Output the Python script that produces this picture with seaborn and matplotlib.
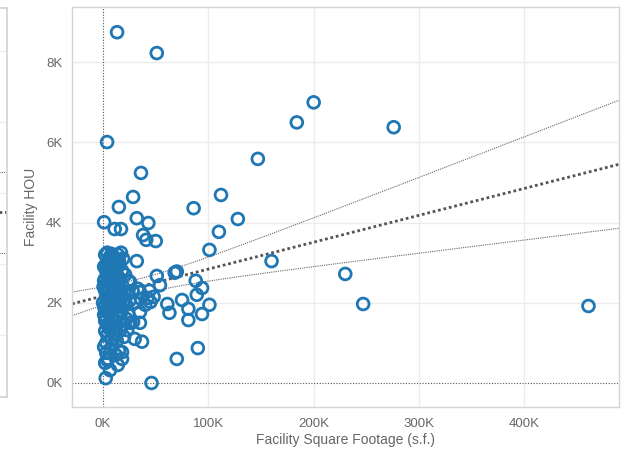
import numpy as np
import pandas as pd
import matplotlib
matplotlib.use("Agg")
import matplotlib.pyplot as plt
from matplotlib.ticker import FuncFormatter
import seaborn as sns

# facility square footage (thousands of s.f.) and facility HOU (thousands)
sqft_k = [
    # spread-out facilities
    13.3, 51, 3.8, 200, 184, 276, 147, 36, 28.5, 112, 86, 128, 1, 32, 43,
    15, 11, 17, 110, 38, 41, 50, 101, 160, 32, 68, 70, 230, 88, 461, 247,
    101, 94, 89, 75, 61, 63, 81, 94, 81, 90, 70, 46, 37, 30, 51, 54, 35,
    42, 45, 48, 25.6, 35, 28.5, 23, 35, 44, 40,
    # small facilities cluster
    2, 4, 6, 8, 10, 14, 17, 5, 9, 12, 19, 3, 7, 15,
    1, 3, 5, 7, 9, 11, 13, 15, 18, 21, 2, 6, 10, 14, 24, 4, 8, 16, 12,
    0.5, 2, 4, 6, 8, 10, 12, 16, 20, 23, 1, 5, 28, 33, 3, 7, 14, 18,
    0, 1, 3, 5, 7, 9, 11, 13, 15, 18, 22, 25, 2, 30, 36, 4, 6, 10, 17, 20,
    1, 3, 5, 7, 9, 12, 15, 19, 22, 26, 4, 17, 24, 11, 2,
    2, 4, 6, 8, 10, 13, 16, 20, 3, 7, 12,
    1, 3, 5, 7, 9, 12, 15, 18, 2, 18, 4,
    2.5, 6.6, 14,
]
hou_k = [
    8.75, 8.23, 6.01, 7.0, 6.5, 6.38, 5.59, 5.24, 4.64, 4.69, 4.36, 4.09, 4.01, 4.11, 3.99,
    4.39, 3.84, 3.84, 3.77, 3.69, 3.57, 3.54, 3.32, 3.04, 3.04, 2.75, 2.78, 2.72, 2.55, 1.92, 1.97,
    1.95, 2.37, 2.2, 2.07, 1.97, 1.75, 1.85, 1.72, 1.57, 0.87, 0.6, 0.0, 1.03, 1.1, 2.67, 2.44, 2.27,
    2.12, 2.02, 2.15, 2.52, 1.5, 1.52, 1.32, 1.77, 2.3, 1.95,
    3.2, 3.25, 3.1, 3.22, 3.15, 3.2, 3.25, 3.0, 3.05, 2.98, 3.1, 2.95, 3.15, 3.05,
    2.9, 2.8, 2.85, 2.7, 2.9, 2.75, 2.85, 2.95, 2.8, 2.7, 2.6, 2.65, 2.6, 2.65, 2.55, 2.7, 2.8, 2.6, 2.7,
    2.4, 2.3, 2.5, 2.2, 2.4, 2.3, 2.45, 2.35, 2.25, 2.2, 2.55, 2.35, 2.3, 2.35, 2.25, 2.5, 2.25, 2.45,
    2.0, 1.9, 2.1, 1.95, 2.05, 1.85, 2.1, 1.9, 2.0, 2.15, 1.95, 2.05, 1.8, 2.0, 2.1, 2.0, 1.85, 2.0, 1.9, 2.05,
    1.7, 1.6, 1.75, 1.5, 1.65, 1.55, 1.7, 1.45, 1.6, 1.5, 1.45, 1.75, 1.7, 1.4, 1.55,
    1.3, 1.2, 1.35, 1.1, 1.25, 1.05, 1.3, 1.15, 1.0, 1.4, 1.2,
    0.9, 0.75, 0.6, 0.85, 0.95, 0.7, 0.8, 0.6, 0.5, 0.77, 0.57,
    0.12, 0.32, 0.45,
]

x_ticks = [0, 100000, 200000, 300000, 400000]
y_ticks = [0, 2000, 4000, 6000, 8000]

# neighbouring panel (cut off at the left edge)
left_grid = [1, 2, 3, 4, 5]
left_lines = [3.30, 2.73, 2.15]

df = pd.DataFrame({"sqft": np.array(sqft_k) * 1000, "hou": np.array(hou_k) * 1000})

sns.set_theme(style="whitegrid")
plt.rcParams["font.family"] = ["Liberation Sans", "DejaVu Sans"]

grid_c = "#ececec"
spine_c = "#d4d4d4"
text_c = "#666666"
point_c = "#1f77b4"

fig = plt.figure(figsize=(6.23, 4.49), dpi=100)
ax = fig.add_axes([0.1156, 0.0935, 0.878, 0.891])

xlim = (-29500, 490000)
ax.set_xlim(*xlim)
ax.set_ylim(-600, 9380)

# linear trend with 95% confidence band
x = df["sqft"].to_numpy()
y = df["hou"].to_numpy()
n = len(x)
slope, intercept = np.polyfit(x, y, 1)
resid = y - (slope * x + intercept)
s = np.sqrt(np.sum(resid ** 2) / (n - 2))
xbar = x.mean()
sxx = np.sum((x - xbar) ** 2)
xs = np.linspace(xlim[0], xlim[1], 200)
fit = slope * xs + intercept
se = s * np.sqrt(1 / n + (xs - xbar) ** 2 / sxx)

ax.axvline(0, color="#555555", lw=0.8, ls=(0, (1, 1.5)), zorder=1)
ax.axhline(0, color="#555555", lw=0.8, ls=(0, (1, 1.5)), zorder=1)

sns.scatterplot(data=df, x="sqft", y="hou", ax=ax, s=72, facecolor="none",
                edgecolor=point_c, linewidth=2.0, zorder=3)

ax.plot(xs, fit + 1.96 * se, color="#666666", lw=0.8, ls=(0, (1, 1)), zorder=2)
ax.plot(xs, fit - 1.96 * se, color="#666666", lw=0.8, ls=(0, (1, 1)), zorder=2)
ax.plot(xs, fit, color="#555555", lw=2.0, ls=(0, (1, 1)), zorder=2)

ax.set_xticks(x_ticks)
ax.set_yticks(y_ticks)
ax.xaxis.set_major_formatter(FuncFormatter(lambda v, p: f"{v / 1000:.0f}K"))
ax.yaxis.set_major_formatter(FuncFormatter(lambda v, p: f"{v / 1000:.0f}K"))
ax.grid(True, color=grid_c, lw=1.0)
ax.xaxis.grid(True)
# zero lines are drawn dotted instead of gridlines
for gl, v in zip(ax.get_xgridlines(), x_ticks):
    if v == 0:
        gl.set_visible(False)
for gl, v in zip(ax.get_ygridlines(), y_ticks):
    if v == 0:
        gl.set_visible(False)

ax.tick_params(axis="y", length=5, color=spine_c, width=1, pad=2, labelsize=9.5, labelcolor=text_c)
ax.tick_params(axis="x", length=0, pad=8, labelsize=9.5, labelcolor=text_c)
for sp in ax.spines.values():
    sp.set_color(spine_c)
    sp.set_linewidth(1)

ax.set_xlabel("Facility Square Footage (s.f.)", fontsize=10, color=text_c, labelpad=2)
ax.set_ylabel("Facility HOU", fontsize=10, color=text_c, labelpad=6)

# sliver of the neighbouring chart
lax = fig.add_axes([-0.1, 1 - 397 / 449, 0.1 + 7 / 623, (397 - 8) / 449])
lax.set_xlim(0, 1)
lax.set_ylim(0.13, 5.6)
lax.set_yticks(left_grid)
lax.set_xticks([])
lax.tick_params(length=0, labelleft=False)
lax.grid(True, color=grid_c, lw=1.0)
lax.xaxis.grid(False)
for sp in lax.spines.values():
    sp.set_color(spine_c)
lax.spines["left"].set_visible(False)
lax.plot([0, 1], [left_lines[0]] * 2, color="#666666", lw=0.8, ls=(0, (1, 1)))
lax.plot([0, 1], [left_lines[1]] * 2, color="#555555", lw=2.0, ls=(0, (1, 1)))
lax.plot([0, 1], [left_lines[2]] * 2, color="#666666", lw=0.8, ls=(0, (1, 1)))

fig.savefig("out.png", dpi=100)
